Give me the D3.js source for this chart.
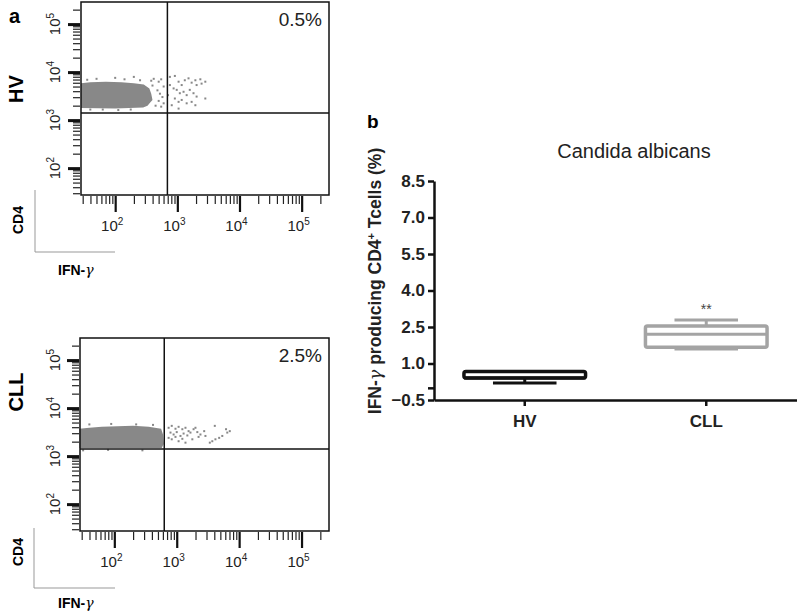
<!DOCTYPE html>
<html>
<head>
<meta charset="utf-8">
<script src="https://cdn.jsdelivr.net/npm/d3@7"></script>
<style>
body { margin: 0; background: #fff; }
svg { display: block; }
text { font-family: "Liberation Sans", Arial, sans-serif; }
</style>
</head>
<body>
<script>
// ---- panel a: flow plots, values in log10 units ----
var decades = [2, 3, 4, 5];
var pctLabels = ["0.5%", "2.5%"];
var rowLabels = ["HV", "CLL"];
var gateX = [2.84, 2.80];
var gateY = [3.15, 3.15];

// outline of the dense population [log10 IFN-g, log10 CD4]
var hvDense = [[1.45,3.25],[2.0,3.24],[2.45,3.26],[2.52,3.30],[2.56,3.36],[2.60,3.42],[2.58,3.55],
  [2.55,3.66],[2.46,3.74],[2.30,3.77],[2.10,3.79],[1.85,3.80],[1.60,3.79],[1.45,3.77]];
var hvEvents = [[2.88,3.90],[2.96,3.92],[3.02,3.80],[3.07,3.73],[3.12,3.83],[3.18,3.87],[3.23,3.78],
  [3.29,3.83],[3.31,3.73],[3.37,3.85],[3.39,3.76],[3.45,3.80],[2.94,3.66],[2.99,3.63],[3.04,3.56],
  [3.10,3.59],[3.15,3.52],[3.20,3.63],[3.26,3.56],[3.31,3.49],[2.96,3.45],[3.02,3.38],[3.07,3.42],
  [3.15,3.35],[3.23,3.38],[3.29,3.31],[3.45,3.45],[3.02,3.24],[2.91,3.31],[2.85,3.52],[2.88,3.73],
  [2.58,3.82],[2.62,3.86],[2.70,3.80],[2.74,3.85],[2.68,3.62],[2.72,3.55],[2.76,3.48],[2.70,3.40],
  [2.78,3.35],[2.65,3.30],[2.74,3.28],[2.60,3.72],[2.78,3.70],[1.70,3.86],[2.00,3.88],[2.30,3.90],
  [1.55,3.84],[2.15,3.85],[2.40,3.83],[1.60,3.22],[1.80,3.22],[2.05,3.21],[2.25,3.22]];
var cllDense = [[1.44,3.17],[2.20,3.17],[2.76,3.17],[2.79,3.25],[2.78,3.45],[2.75,3.57],[2.55,3.61],
  [2.30,3.63],[2.05,3.62],[1.80,3.61],[1.60,3.59],[1.44,3.57]];
var cllEvents = [[2.87,3.59],[2.92,3.63],[2.98,3.57],[3.03,3.61],[3.09,3.56],[3.14,3.59],[3.19,3.52],
  [2.90,3.49],[2.95,3.45],[3.00,3.50],[3.06,3.42],[3.11,3.47],[3.17,3.43],[3.22,3.49],[3.27,3.56],
  [3.33,3.50],[3.38,3.45],[3.44,3.52],[2.87,3.38],[2.92,3.35],[2.98,3.40],[3.03,3.31],[3.09,3.36],
  [3.14,3.28],[3.25,3.35],[3.35,3.40],[3.46,3.42],[3.57,3.31],[3.62,3.35],[3.68,3.38],[3.73,3.42],
  [3.81,3.49],[3.85,3.52],[3.53,3.28],[3.79,3.56],[3.30,3.59],[3.61,3.63],[1.60,3.66],[1.95,3.67],
  [2.35,3.66],[2.62,3.65],[1.50,3.12],[1.90,3.13],[2.45,3.12]];

// ---- panel b: box plot ----
var groups = ["HV", "CLL"];
var boxMin = [0.20, 1.60];
var boxQ1 = [0.40, 1.67];
var boxMed = [0.40, 2.20];
var boxQ3 = [0.67, 2.54];
var boxMax = [0.67, 2.79];
var boxColor = ["#111", "#a4a4a4"];
var yTicks = [-0.5, 0, 1.0, 2.5, 4.0, 5.5, 7.0, 8.5];

var svg = d3.select("body").append("svg")
  .attr("width", 797)
  .attr("height", 614);

var pw = function(v) { return Math.pow(10, v); };

function flow_panel(o) {
  var x = d3.scaleLog().domain([pw(1.45), pw(5.44)]).range([o.left, o.right]);
  var y = d3.scaleLog().domain([pw(1.44), pw(5.46)]).range([o.bottom, o.top]);
  var g = svg.append("g");

  var minorX = x.ticks().filter(function(d) { return Math.abs(Math.log10(d) % 1) > 1e-6; });
  var minorY = y.ticks().filter(function(d) { return Math.abs(Math.log10(d) % 1) > 1e-6; });
  var major = decades.map(pw);

  // ticks
  var ax1 = g.append("g").attr("transform", "translate(0," + (o.bottom + 1) + ")")
    .call(d3.axisBottom(x).tickValues(minorX).tickSize(8).tickFormat(""));
  var ax2 = g.append("g").attr("transform", "translate(0," + (o.bottom + 1) + ")")
    .call(d3.axisBottom(x).tickValues(major).tickSize(16).tickFormat(""));
  var ay1 = g.append("g").attr("transform", "translate(" + (o.left - 1) + ",0)")
    .call(d3.axisLeft(y).tickValues(minorY).tickSize(7).tickFormat(""));
  var ay2 = g.append("g").attr("transform", "translate(" + (o.left - 1) + ",0)")
    .call(d3.axisLeft(y).tickValues(major).tickSize(12).tickFormat(""));
  [ax1, ax2, ay1, ay2].forEach(function(a) { a.select(".domain").remove(); });
  ax1.selectAll("line").attr("stroke", "#222").attr("stroke-width", 1.2);
  ay1.selectAll("line").attr("stroke", "#222").attr("stroke-width", 1.2);
  ax2.selectAll("line").attr("stroke", "#111").attr("stroke-width", 2.2);
  ay2.selectAll("line").attr("stroke", "#111").attr("stroke-width", 3);

  // tick labels
  var xl = g.selectAll("text.xl").data(decades).enter().append("text")
    .attr("class", "xl")
    .attr("x", function(d) { return x(pw(d)) - 3; })
    .attr("y", o.bottom + 36)
    .attr("text-anchor", "middle")
    .style("font-size", "15px")
    .style("fill", "#222");
  xl.append("tspan").text("10");
  xl.append("tspan").attr("dy", -6).style("font-size", "10px").text(function(d) { return d; });

  var yl = g.selectAll("text.yl").data(decades).enter().append("text")
    .attr("class", "yl")
    .attr("transform", function(d) { return "translate(60," + y(pw(d)) + ") rotate(-90)"; })
    .attr("text-anchor", "middle")
    .style("font-size", "15px")
    .style("fill", "#222");
  yl.append("tspan").text("10");
  yl.append("tspan").attr("dy", -6).style("font-size", "10px").text(function(d) { return d; });

  // events
  var line = d3.line()
    .x(function(d) { return x(pw(d[0])); })
    .y(function(d) { return y(pw(d[1])); })
    .curve(d3.curveLinearClosed);
  g.append("path").attr("d", line(o.dense)).attr("fill", "#888");
  g.selectAll("rect.ev").data(o.events).enter().append("rect")
    .attr("class", "ev")
    .attr("x", function(d) { return x(pw(d[0])) - 1; })
    .attr("y", function(d) { return y(pw(d[1])) - 1; })
    .attr("width", 2)
    .attr("height", 2)
    .attr("fill", "#888");

  // frame and gates
  g.append("rect")
    .attr("x", o.left).attr("y", o.top)
    .attr("width", o.right - o.left).attr("height", o.bottom - o.top)
    .attr("fill", "none").attr("stroke", "#111").attr("stroke-width", 1.5);
  g.append("line")
    .attr("x1", x(pw(o.gx))).attr("x2", x(pw(o.gx)))
    .attr("y1", o.top).attr("y2", o.bottom)
    .attr("stroke", "#111").attr("stroke-width", 1.5);
  g.append("line")
    .attr("x1", o.left).attr("x2", o.right)
    .attr("y1", y(pw(o.gy))).attr("y2", y(pw(o.gy)))
    .attr("stroke", "#111").attr("stroke-width", 1.5);

  g.append("text")
    .attr("x", o.right - 7).attr("y", o.top + 24)
    .attr("text-anchor", "end")
    .style("font-size", "19px")
    .style("fill", "#222")
    .text(o.pct);

  // row label
  g.append("text")
    .attr("transform", "translate(23," + o.rowY + ") rotate(-90)")
    .attr("text-anchor", "middle")
    .style("font-size", "20px")
    .style("font-weight", "bold")
    .text(o.row);

  // axis hint corner
  g.append("path")
    .attr("d", "M" + o.cx + "," + (o.bottom - o.ctop) + "V" + (o.bottom + 57) + "H115")
    .attr("fill", "none").attr("stroke", "#999").attr("stroke-width", 1);
  g.append("text")
    .attr("transform", "translate(23," + (o.bottom + o.cdy) + ") rotate(-90)")
    .attr("text-anchor", "middle")
    .style("font-size", "14px")
    .style("font-weight", "bold")
    .text("CD4");
  var ifn = g.append("text")
    .attr("x", 58).attr("y", o.bottom + o.idy)
    .style("font-size", "14px")
    .style("font-weight", "bold")
    .text("IFN-");
  ifn.append("tspan").style("font-weight", "normal").style("font-style", "italic")
    .style("font-family", "'DejaVu Serif', serif").text("γ");
}

flow_panel({ left: 81, right: 329, top: 2, bottom: 195, gx: gateX[0], gy: gateY[0],
  dense: hvDense, events: hvEvents, pct: pctLabels[0], row: rowLabels[0], rowY: 89,
  cx: 35, ctop: 5, cdy: 25, idy: 80 });
flow_panel({ left: 80, right: 329, top: 338, bottom: 531, gx: gateX[1], gy: gateY[1],
  dense: cllDense, events: cllEvents, pct: pctLabels[1], row: rowLabels[1], rowY: 392,
  cx: 34, ctop: 3, cdy: 21, idy: 77 });

svg.append("text")
  .attr("x", 9).attr("y", 23)
  .style("font-size", "20px").style("font-weight", "bold")
  .text("a");

// ---- panel b ----
var bx = d3.scaleBand().domain(groups).range([434, 797]);
var by = d3.scaleLinear().domain([-0.5, 8.5]).range([400, 181]);
var gb = svg.append("g");

var yAxis = gb.append("g").attr("transform", "translate(434,0)")
  .call(d3.axisLeft(by).tickValues(yTicks).tickSize(6).tickSizeOuter(0).tickPadding(3)
    .tickFormat(function(d) { return d === 0 ? "" : d3.format(".1f")(d); }));
var xAxis = gb.append("g").attr("transform", "translate(0,400)")
  .call(d3.axisBottom(bx).tickSize(6).tickSizeOuter(0).tickPadding(9));
[yAxis, xAxis].forEach(function(a) {
  a.selectAll("path, line").attr("stroke", "#111").attr("stroke-width", 2.5);
  a.selectAll("text")
    .style("font-family", "'Liberation Sans', Arial, sans-serif")
    .style("font-weight", "bold")
    .style("fill", "#222");
});
yAxis.selectAll("text").style("font-size", "17px");
xAxis.selectAll("text").style("font-size", "17px");

var bw = bx.bandwidth() * 0.67;
var cw = bx.bandwidth() * 0.35;
var boxes = gb.selectAll("g.box").data(groups).enter().append("g")
  .attr("class", "box")
  .attr("transform", function(d) { return "translate(" + (bx(d) + bx.bandwidth() / 2) + ",0)"; });
boxes.each(function(d, i) {
  var b = d3.select(this);
  var c = boxColor[i];
  b.append("line").attr("y1", by(boxQ3[i])).attr("y2", by(boxMax[i]))
    .attr("stroke", c).attr("stroke-width", 3);
  b.append("line").attr("y1", by(boxQ1[i])).attr("y2", by(boxMin[i]))
    .attr("stroke", c).attr("stroke-width", 3);
  b.append("line").attr("x1", -cw / 2).attr("x2", cw / 2)
    .attr("y1", by(boxMax[i])).attr("y2", by(boxMax[i]))
    .attr("stroke", c).attr("stroke-width", 3);
  b.append("line").attr("x1", -cw / 2).attr("x2", cw / 2)
    .attr("y1", by(boxMin[i])).attr("y2", by(boxMin[i]))
    .attr("stroke", c).attr("stroke-width", 3);
  b.append("rect")
    .attr("x", -bw / 2).attr("width", bw)
    .attr("y", by(boxQ3[i])).attr("height", by(boxQ1[i]) - by(boxQ3[i]))
    .attr("rx", 2)
    .attr("fill", "#fff").attr("stroke", c).attr("stroke-width", 3.5);
  b.append("line").attr("x1", -bw / 2).attr("x2", bw / 2)
    .attr("y1", by(boxMed[i])).attr("y2", by(boxMed[i]))
    .attr("stroke", c).attr("stroke-width", 3);
});

gb.append("text")
  .attr("x", bx("CLL") + bx.bandwidth() / 2).attr("y", by(boxMax[1]) - 6)
  .attr("text-anchor", "middle")
  .style("font-size", "14px").style("fill", "#444")
  .text("**");

gb.append("text")
  .attr("x", 634).attr("y", 158)
  .attr("text-anchor", "middle")
  .style("font-size", "20px").style("fill", "#222")
  .text("Candida albicans");

gb.append("text")
  .attr("x", 367).attr("y", 128)
  .style("font-size", "19px").style("font-weight", "bold")
  .text("b");

var yl = gb.append("text")
  .attr("transform", "translate(381,281) rotate(-90)")
  .attr("text-anchor", "middle")
  .style("font-size", "17.5px").style("font-weight", "bold").style("fill", "#222");
yl.append("tspan").text("IFN-");
yl.append("tspan").style("font-weight", "normal").style("font-style", "italic")
  .style("font-family", "'DejaVu Serif', serif").text("γ");
yl.append("tspan").text(" producing CD4");
yl.append("tspan").attr("dy", -6).style("font-size", "11px").text("+");
yl.append("tspan").attr("dy", 6).text(" Tcells (%)");
</script>
</body>
</html>
